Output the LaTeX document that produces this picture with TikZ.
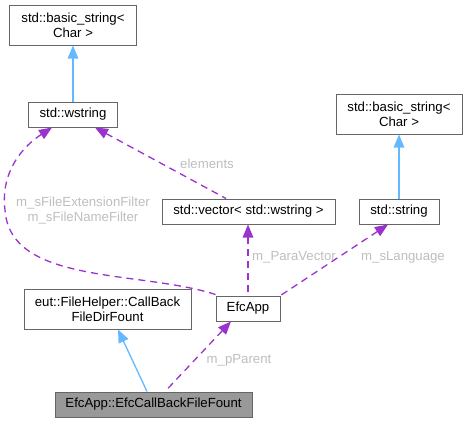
\documentclass[tikz,border=0pt]{standalone}
\usepackage{fontspec}
\setmainfont{Liberation Sans}
\usetikzlibrary{arrows.meta}
\definecolor{inhblue}{HTML}{63B8FF}
\definecolor{usepurple}{HTML}{9A32CD}
\definecolor{lblgray}{HTML}{BEBEBE}
\definecolor{boxgray}{HTML}{666666}
\definecolor{mainfill}{HTML}{999999}
\tikzset{
  box/.style={draw=boxgray, line width=1pt, fill=white, inner sep=0pt, align=center, font=\fontsize{13.2}{15}\selectfont},
  mainbox/.style={box, fill=mainfill},
  inh/.style={draw=inhblue, line width=1.3pt, {Triangle[length=13pt,width=10.5pt]}-},
  usage/.style={draw=usepurple, line width=1.3pt, dash pattern=on 7pt off 5pt, {Triangle[length=13pt,width=10.5pt]}-},
  lbl/.style={text=lblgray, inner sep=0pt, align=center, font=\fontsize{13.2}{15}\selectfont}
}
\begin{document}
\begin{tikzpicture}[x=1pt,y=-1pt]
\useasboundingbox (0,0) rectangle (468,423);
\node[box, minimum width=127pt, minimum height=40pt] (bs1) at (73,25) {std::basic\_string<\\Char >};
\node[box, minimum width=89pt, minimum height=25pt] (wstr) at (73,114.5) {std::wstring};
\node[box, minimum width=126pt, minimum height=40pt] (bs2) at (399,114) {std::basic\_string<\\Char >};
\node[box, minimum width=173pt, minimum height=25pt] (vec) at (248.5,211.5) {std::vector< std::wstring >};
\node[box, minimum width=80pt, minimum height=25pt] (str) at (399,211.5) {std::string};
\node[box, minimum width=167pt, minimum height=40pt] (fh) at (107.5,309) {eut::FileHelper::CallBack\\FileDirFount};
\node[box, minimum width=64pt, minimum height=25pt] (app) at (248,308.5) {EfcApp};
\node[mainbox, minimum width=197pt, minimum height=25pt] (cb) at (153.5,404.5) {EfcApp::EfcCallBackFileFount};

\draw[inh] (bs1.south) -- (wstr.north);
\draw[inh] (bs2.south) -- (str.north);
\draw[inh] ([xshift=10.5pt]fh.south) -- ([xshift=-6.5pt]cb.north);

\draw[usage] ([xshift=-17pt]app.south) -- ([xshift=11.5pt]cb.north);
\draw[usage] (app.north |- vec.south) -- (app.north);
\draw[usage] ([xshift=-11pt]str.south) -- (app.north east);
\draw[usage] ([xshift=22pt]wstr.south) -- ([xshift=-22.5pt]vec.north);
\coordinate (lp) at (5,210);
\draw[usage] ([xshift=-21pt]wstr.south) .. controls (25,145) and (0,170) .. (lp)
   .. controls (10,285) and (140,270) .. ([yshift=1pt]app.north west);

\node[lbl] (l1) at (207,164) {elements};
\node[lbl] (l2) at (83,211) {m\_sFileExtensionFilter\\m\_sFileNameFilter};
\node[lbl] (l3) at (294,257) {m\_ParaVector};
\node[lbl] (l4) at (403,257) {m\_sLanguage};
\node[lbl] (l5) at (239,360) {m\_pParent};
\end{tikzpicture}
\end{document}
